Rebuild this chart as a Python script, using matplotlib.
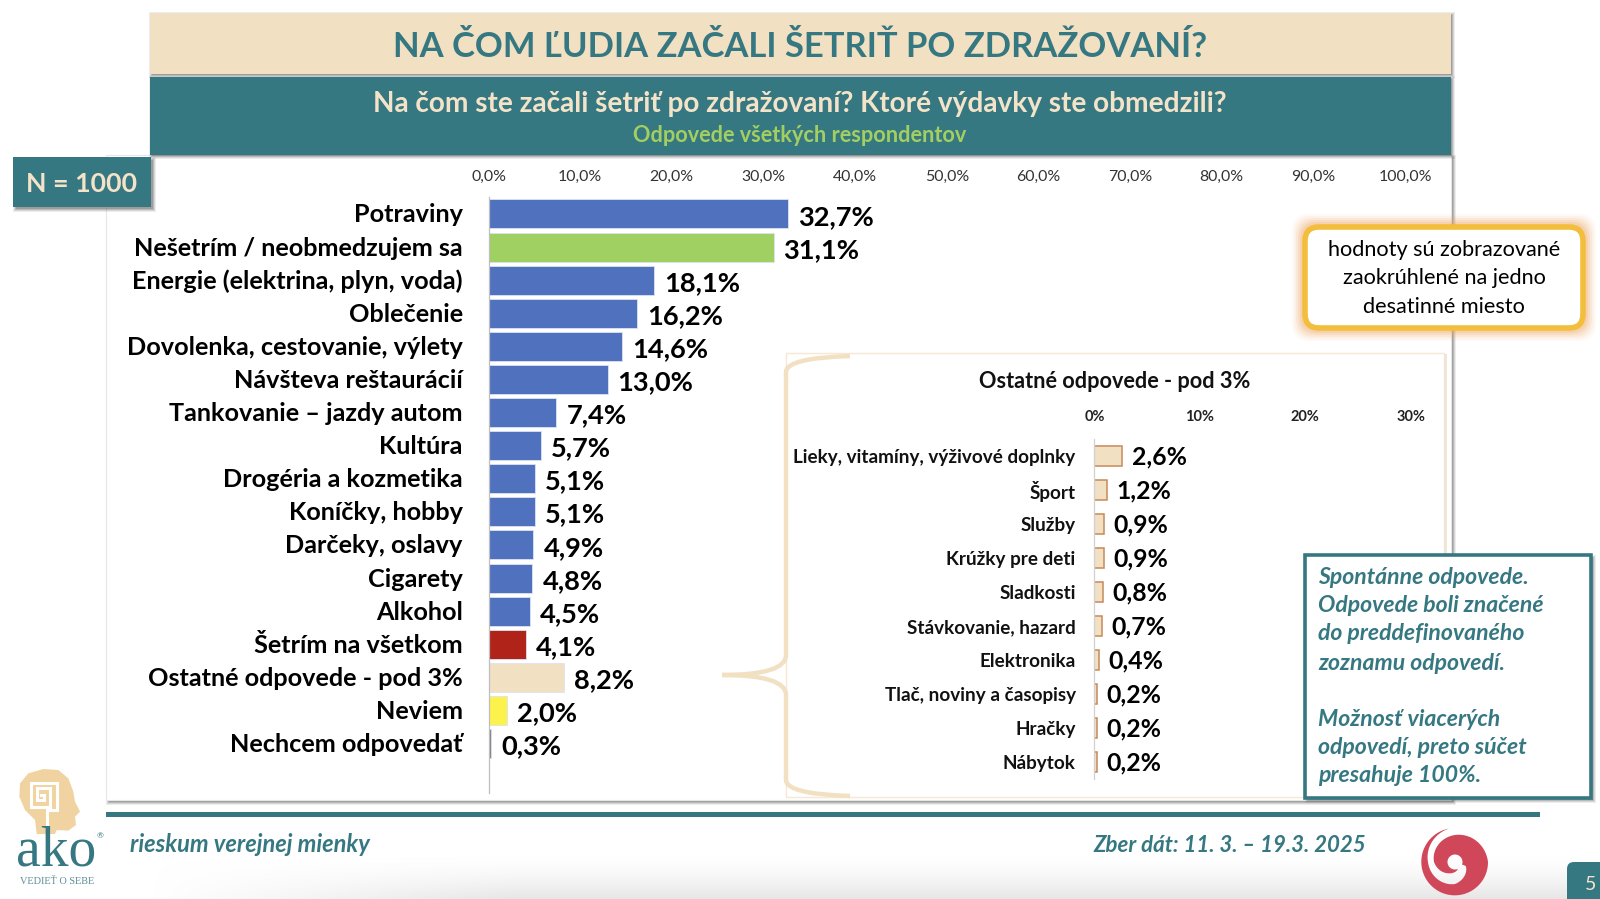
import numpy as np
import matplotlib
matplotlib.use("Agg")
import matplotlib.pyplot as plt
from matplotlib.patches import Rectangle, FancyBboxPatch, Polygon, PathPatch
from matplotlib.path import Path
from matplotlib.transforms import ScaledTranslation

# ---- data ----
main_labels = ["Potraviny", "Nešetrím / neobmedzujem sa", "Energie (elektrina, plyn, voda)", "Oblečenie",
               "Dovolenka, cestovanie, výlety", "Návšteva reštaurácií", "Tankovanie – jazdy autom", "Kultúra",
               "Drogéria a kozmetika", "Koníčky, hobby", "Darčeky, oslavy", "Cigarety", "Alkohol",
               "Šetrím na všetkom", "Ostatné odpovede - pod 3%", "Neviem", "Nechcem odpovedať"]
main_values = [32.7, 31.1, 18.1, 16.2, 14.6, 13.0, 7.4, 5.7, 5.1, 5.1, 4.9, 4.8, 4.5, 4.1, 8.2, 2.0, 0.3]
main_colors = ["#4F71BE", "#A0CF62"] + ["#4F71BE"] * 11 + ["#B02318", "#F2E0C3", "#FBF24B", "#7F7F7F"]
main_ticks = [0, 10, 20, 30, 40, 50, 60, 70, 80, 90, 100]

inset_labels = ["Lieky, vitamíny, výživové doplnky", "Šport", "Služby", "Krúžky pre deti", "Sladkosti",
                "Stávkovanie, hazard", "Elektronika", "Tlač, noviny a časopisy", "Hračky", "Nábytok"]
inset_values = [2.6, 1.2, 0.9, 0.9, 0.8, 0.7, 0.4, 0.2, 0.2, 0.2]
inset_ticks = [0, 10, 20, 30]

TEAL = "#367882"
BEIGE = "#F2E0C3"
FONT = "Lato"
W, H = 1600, 899

plt.rcParams["font.family"] = [FONT, "DejaVu Sans"]
fig = plt.figure(figsize=(16, 8.99), dpi=100)


def px_axes(left, top, right, bottom, z):
    return fig.add_axes([left / W, 1 - bottom / H, (right - left) / W, (bottom - top) / H], zorder=z)


bg = px_axes(0, 0, W, H, 0)
bg.set_xlim(0, W); bg.set_ylim(H, 0); bg.axis("off")
fg = px_axes(0, 0, W, H, 5)
fg.set_xlim(0, W); fg.set_ylim(H, 0); fg.axis("off"); fg.patch.set_alpha(0)


def rect(ax, x0, y0, x1, y1, **kw):
    ax.add_patch(Rectangle((x0, y0), x1 - x0, y1 - y0, **kw))


def shadow(ax, x0, y0, x1, y1, z, off=2.5):
    for grow, a in [(2.5, 0.10), (1.5, 0.15), (0.5, 0.22), (-0.5, 0.28)]:
        rect(ax, x0 + off - grow, y0 + off - grow, x1 + off + grow, y1 + off + grow,
             fc="#555555", ec="none", alpha=a, zorder=z)


# bottom soft gradient
gy = np.linspace(0, 1, 40)[:, None]
gx = np.clip(np.linspace(0, 1, 400) * 4, 0, 1)[None, :]
grad = np.zeros((40, 400, 4))
grad[..., :3] = 0.88
grad[..., 3] = (gy ** 1.5) * gx * 0.8
bg.imshow(grad, extent=(150, W, H, 855), aspect="auto", zorder=0)
bg.set_xlim(0, W); bg.set_ylim(H, 0)

# chart panel with shadow
shadow(bg, 105.5, 155, 1451, 800, 1)
rect(bg, 105.5, 155, 1451, 800, fc="white", ec="#E6E6E6", lw=0.8, zorder=2)

# header bands
shadow(bg, 150, 12.7, 1450.5, 74, 3, off=1.5)
rect(bg, 150, 12.7, 1450.5, 74, fc=BEIGE, ec="none", zorder=4)
shadow(bg, 150, 77, 1450.5, 155, 3, off=1.5)
rect(bg, 150, 77, 1450.5, 155, fc=TEAL, ec="none", zorder=4)
bg.text(800, 47, "NA ČOM ĽUDIA ZAČALI ŠETRIŤ PO ZDRAŽOVANÍ?", color=TEAL, fontsize=24.9, fontweight="bold",
        ha="center", va="center", zorder=6)
bg.text(800, 104, "Na čom ste začali šetriť po zdražovaní? Ktoré výdavky ste obmedzili?", color="#F3E3C8",
        fontsize=20.2, fontweight="bold", ha="center", va="center", zorder=6)
bg.text(800, 135.5, "Odpovede všetkých respondentov", color="#A3CF62", fontsize=15.6, fontweight="bold",
        ha="center", va="center", zorder=6)

# N box
shadow(fg, 12.8, 157, 151, 207, 1)
rect(fg, 12.8, 157, 151, 207, fc=TEAL, ec="none", zorder=2)
fg.text(81.5, 184.5, "N = 1000", color="#F3E3C8", fontsize=19.3, fontweight="bold", ha="center", va="center", zorder=3)

# main chart
ax = px_axes(488.5, 197.4, 1405.1, 793.2, 2)
ax.patch.set_alpha(0)
pos = np.arange(len(main_values))
ax.barh(pos, main_values, height=0.876, color=main_colors, edgecolor="#DCE3F2", linewidth=0.6)
ax.set_xlim(0, 100)
ax.set_ylim(17.5, -0.5)
ax.xaxis.tick_top()
ax.set_xticks(main_ticks)
ax.set_xticklabels([f"{t:.1f}%".replace(".", ",") for t in main_ticks], fontsize=11.4, color="#333333")
ax.set_yticks(pos)
ax.set_yticklabels(main_labels, fontsize=18.2, fontweight="bold", color="black")
ax.tick_params(axis="x", length=0, pad=10)
ax.tick_params(axis="y", length=0, pad=18.5)
for lab in ax.get_yticklabels():
    lab.set_transform(lab.get_transform() + ScaledTranslation(0, 1 / 100, fig.dpi_scale_trans))
for s in ["top", "right", "bottom"]:
    ax.spines[s].set_visible(False)
ax.spines["left"].set_color("#BFBFBF")
ax.spines["left"].set_linewidth(0.9)
for p, v in zip(pos, main_values):
    ax.annotate(f"{v:.1f}%".replace(".", ","), (v, p), xytext=(7.2, -2), textcoords="offset points",
                fontsize=19.6, fontweight="bold", color="black", ha="left", va="center")

# inset frame and brace
rect(bg, 786, 352.7, 1444, 797, fc="white", ec="#F5E9D6", lw=1, zorder=3)
rect(bg, 1444, 354, 1447, 797, fc="#F0E6D6", ec="none", zorder=3)
brace = Path([(850, 356), (786, 358), (786, 372), (786, 655), (786, 675), (722, 675),
              (786, 675), (786, 695), (786, 780), (786, 794), (850, 796)],
             [Path.MOVETO, Path.CURVE3, Path.CURVE3, Path.LINETO, Path.CURVE3, Path.CURVE3,
              Path.CURVE3, Path.CURVE3, Path.LINETO, Path.CURVE3, Path.CURVE3])
bg.add_patch(PathPatch(brace, fc="none", ec=BEIGE, lw=3.2, zorder=4))

# inset chart
ix = px_axes(1094.4, 439, 1410.7, 779, 2)
ix.patch.set_alpha(0)
ipos = np.arange(len(inset_values))
ix.barh(ipos, inset_values, height=0.59, color=BEIGE, edgecolor="#C8895A", linewidth=1.1)
ix.set_xlim(0, 30)
ix.set_ylim(9.5, -0.5)
ix.xaxis.tick_top()
ix.set_xticks(inset_ticks)
ix.set_xticklabels([f"{t}%" for t in inset_ticks], fontsize=10.5, fontweight="bold", color="#222222")
ix.set_yticks(ipos)
ix.set_yticklabels(inset_labels, fontsize=13.6, fontweight="bold", color="#111111")
ix.tick_params(axis="x", length=0, pad=11)
ix.tick_params(axis="y", length=0, pad=13.5)
for s in ["top", "right", "bottom"]:
    ix.spines[s].set_visible(False)
ix.spines["left"].set_color("#D0D0D0")
ix.spines["left"].set_linewidth(0.9)
for p, v in zip(ipos, inset_values):
    ix.annotate(f"{v:.1f}%".replace(".", ","), (v, p), xytext=(7, -1), textcoords="offset points",
                fontsize=17.8, fontweight="bold", color="black", ha="left", va="center")
bg.text(1115, 382, "Ostatné odpovede - pod 3%", fontsize=15.6, fontweight="bold", color="#111111",
        ha="center", va="center", zorder=6)

# rounded-value callout
for grow, a in [(13, 0.06), (11, 0.08), (9, 0.12), (7, 0.15), (5, 0.2)]:
    fg.add_patch(FancyBboxPatch((1305 - grow, 227 - grow), 278 + 2 * grow, 101 + 2 * grow,
                                boxstyle="round,pad=0,rounding_size=18", fc="#F0A35C", ec="none", alpha=a))
fg.add_patch(FancyBboxPatch((1305, 227), 278, 101, boxstyle="round,pad=0,rounding_size=14",
                            fc="white", ec="#F2BE3C", lw=4))
for y, t in zip([250, 278, 307], ["hodnoty sú zobrazované", "zaokrúhlené na jedno", "desatinné miesto"]):
    fg.text(1444, y, t, fontsize=15.6, color="black", ha="center", va="center")

# note box
shadow(fg, 1304.5, 554.5, 1591, 798, 1)
rect(fg, 1304.5, 554.5, 1591, 798, fc="white", ec=TEAL, lw=2.6, zorder=2)
note_lines = ["Spontánne odpovede.", "Odpovede boli značené", "do preddefinovaného", "zoznamu odpovedí.",
              "Možnosť viacerých", "odpovedí, preto súčet", "presahuje 100%."]
for y, t in zip([578, 606, 634, 663, 719, 748, 776], note_lines):
    fg.text(1318, y, t, fontsize=16.6, color=TEAL, fontstyle="italic", fontweight="bold", ha="left", va="center",
            zorder=3)

# footer
rect(bg, 105.5, 811.5, 1540, 816.5, fc=TEAL, ec="none", zorder=2)
bg.text(130, 845, "rieskum verejnej mienky", fontsize=17, color=TEAL, fontstyle="italic", fontweight="bold",
        ha="left", va="center")
bg.text(1093, 845, "Zber dát: 11. 3. – 19.3. 2025", fontsize=16, color=TEAL, fontstyle="italic", fontweight="bold",
        ha="left", va="center")

# page tag
bg.add_patch(FancyBboxPatch((1567, 862), 60, 60, boxstyle="round,pad=0,rounding_size=7", fc=TEAL, ec="none", zorder=3))
bg.text(1591, 885, "5", fontsize=14, color="#F3E3C8", ha="center", va="center", zorder=4)

# ako logo
def zp(pts):
    return [(x / 3, 760 + y / 3) for x, y in pts]

head = zp([(110, 222), (105, 180), (75, 150), (58, 110), (60, 70), (85, 40), (130, 27), (175, 30), (205, 55),
           (220, 95), (225, 125), (240, 155), (225, 170), (228, 195), (205, 212), (170, 210), (165, 222)])
bg.add_patch(Polygon(head, closed=True, fc="#F0D3A0", ec="none", zorder=3))
spiral = zp([(142, 222), (142, 150), (172, 150), (172, 68), (92, 68), (92, 140), (150, 140), (150, 85), (112, 85),
             (112, 120), (133, 120), (133, 105), (124, 105)])
bg.plot(*zip(*spiral), color="white", lw=2.2, solid_joinstyle="miter", zorder=4)
bg.text(56, 852, "ako", fontsize=40, color=TEAL, ha="center", va="center", zorder=5, family="Liberation Serif")
bg.text(57, 881, "VEDIEŤ O SEBE", fontsize=7.4, color="#5C8E96", ha="center", va="center", zorder=5,
        family="Liberation Serif")
bg.text(100, 836, "®", fontsize=6, color=TEAL, ha="center", va="center", zorder=5)

# red spiral logo
cx, cy = 1455, 862
def ring(t0, t1, tout, rout, tin, rin):
    th = np.linspace(t0, t1, 200)
    ro = np.interp(th, tout, rout)
    ri = np.interp(th, tin, rin)
    a = np.radians(th)
    o = np.c_[cx + ro * np.cos(a), cy - ro * np.sin(a)]
    i = np.c_[cx + ri * np.cos(a), cy - ri * np.sin(a)][::-1]
    return np.vstack([o, i])

bg.add_patch(Polygon(ring(100, 420, [100, 360, 420], [34, 33, 29], [100, 180, 270, 330, 360, 420], [34, 27, 22, 13, 8, 8]),
                     fc="#D1475A", ec="none", zorder=3))
bg.add_patch(Polygon(ring(340, 650, [340, 420, 450, 540, 600, 650], [25, 29, 27, 21, 13, 8], [340, 650], [7.5, 7.5]),
                     fc="#D1475A", ec="none", zorder=3))

fig.savefig("out.png", dpi=100)
